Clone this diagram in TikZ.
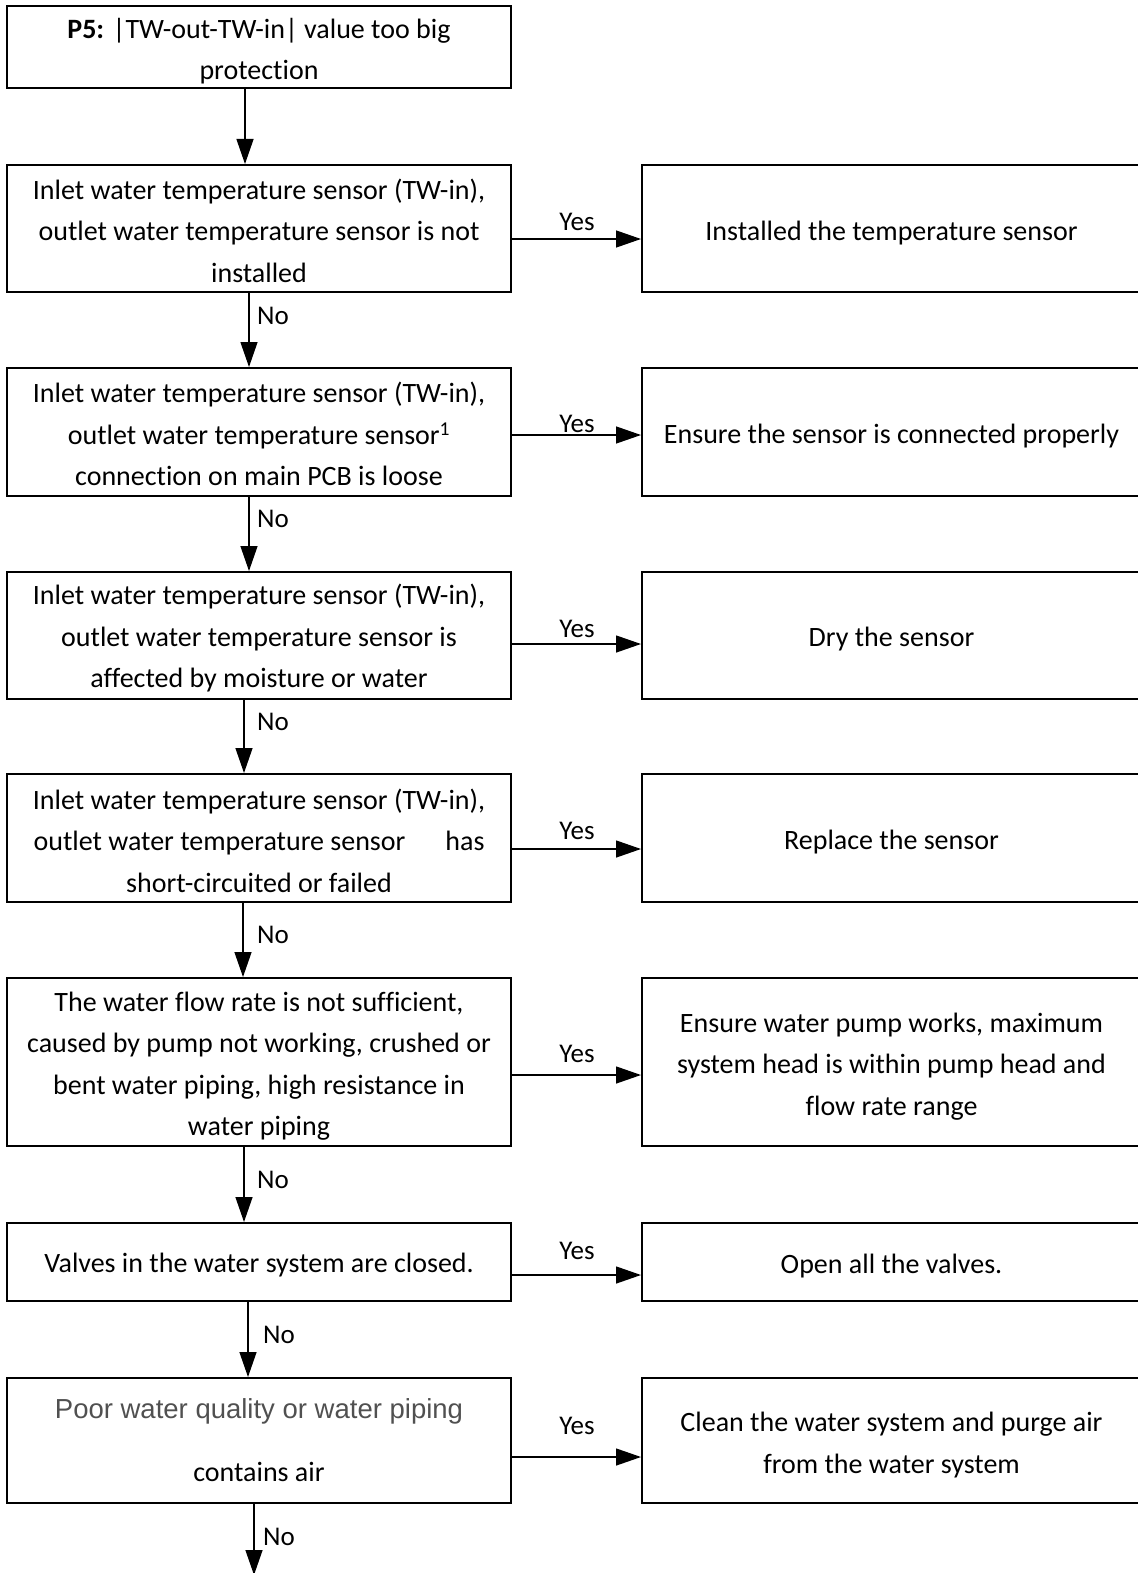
\documentclass[tikz,border=0pt]{standalone}
\usepackage{fontspec}
\setmainfont{Carlito}[Ligatures={NoCommon}]
\newfontfamily\arialf{Liberation Sans}
\usetikzlibrary{arrows.meta}
\definecolor{tgray}{RGB}{80,80,80}
\begin{document}
\begin{tikzpicture}[x=1pt,y=-1pt,
  box/.style={draw, line width=2pt, inner sep=0pt},
  txt/.style={align=center, inner sep=0pt, font=\fontsize{28}{41.5}\selectfont},
  lbox/.style={box, minimum width=504pt},
  rbox/.style={box, minimum width=499pt},
  arr/.style={line width=1.3pt, -{Triangle[length=25pt,width=17pt]}},
  lab/.style={font=\fontsize{27}{30}\selectfont, inner sep=0pt}]
\useasboundingbox (0,0) rectangle (1137,1573);
% left column
\node[lbox, minimum height=82pt, label={[txt,yshift=-4pt]center:{\textbf{P5:} |TW-out-TW-in| value too big\\protection}}] (b0) at (259,47) {};
\node[lbox, minimum height=127pt, label={[txt,yshift=-2pt]center:{Inlet water temperature sensor (TW-in),\\outlet water temperature sensor is not\\installed}}] (b1) at (259,228.5) {};
\node[lbox, minimum height=128pt, label={[txt,yshift=-2pt]center:{Inlet water temperature sensor (TW-in),\\outlet water temperature sensor\textsuperscript{1}\\connection on main PCB is loose}}] (b2) at (259,432) {};
\node[lbox, minimum height=127pt, label={[txt,yshift=-3pt]center:{Inlet water temperature sensor (TW-in),\\outlet water temperature sensor is\\affected by moisture or water}}] (b3) at (259,635.5) {};
\node[lbox, minimum height=128pt, label={[txt,yshift=-2.5pt]center:{Inlet water temperature sensor (TW-in),\\outlet water temperature sensor\hspace{1.2em} has\\short-circuited or failed}}] (b4) at (259,838) {};
\node[lbox, minimum height=168pt, label={[txt,yshift=-4pt]center:{The water flow rate is not sufficient,\\caused by pump not working, crushed or\\bent water piping, high resistance in\\water piping}}] (b5) at (259,1062) {};
\node[lbox, minimum height=78pt, label={[txt,yshift=-3pt]center:{Valves in the water system are closed.}}] (b6) at (259,1262) {};
\node[lbox, minimum height=125pt, label={[txt,font=\fontsize{28}{63}\selectfont]center:{{\arialf\fontsize{27.5}{63}\selectfont\color{tgray}Poor water quality or water piping}\\contains air}}] (b7) at (259,1440.5) {};
% right column
\node[rbox, minimum height=127pt, label={[txt,yshift=-5pt]center:{Installed the temperature sensor}}] (r1) at (891.5,228.5) {};
\node[rbox, minimum height=128pt, label={[txt,yshift=-4.5pt]center:{Ensure the sensor is connected properly}}] (r2) at (891.5,432) {};
\node[rbox, minimum height=127pt, label={[txt,yshift=-4pt]center:{Dry the sensor}}] (r3) at (891.5,635.5) {};
\node[rbox, minimum height=128pt, label={[txt,yshift=-4pt]center:{Replace the sensor}}] (r4) at (891.5,838) {};
\node[rbox, minimum height=168pt, label={[txt,yshift=-4.5pt]center:{Ensure water pump works, maximum\\system head is within pump head and\\flow rate range}}] (r5) at (891.5,1062) {};
\node[rbox, minimum height=78pt, label={[txt,yshift=-4pt]center:{Open all the valves.}}] (r6) at (891.5,1262) {};
\node[rbox, minimum height=125pt, label={[txt,yshift=-4.5pt]center:{Clean the water system and purge air\\from the water system}}] (r7) at (891.5,1440.5) {};
\coordinate (fin) at (254,1575);
% vertical arrows
\draw[arr] ([xshift=-14pt]b0.south) -- ([xshift=-14pt]b1.north);
\draw[arr] ([xshift=-10pt]b1.south) -- ([xshift=-10pt]b2.north);
\draw[arr] ([xshift=-10pt]b2.south) -- ([xshift=-10pt]b3.north);
\draw[arr] ([xshift=-15pt]b3.south) -- ([xshift=-15pt]b4.north);
\draw[arr] ([xshift=-16pt]b4.south) -- ([xshift=-16pt]b5.north);
\draw[arr] ([xshift=-15pt]b5.south) -- ([xshift=-15pt]b6.north);
\draw[arr] ([xshift=-11pt]b6.south) -- ([xshift=-11pt]b7.north);
\draw[arr] (b7.south -| fin) -- (fin);
% No labels
\node[lab, anchor=west] (n1) at (257,316)  {No};
\node[lab, anchor=west] (n2) at (257,519)  {No};
\node[lab, anchor=west] (n3) at (257,722)  {No};
\node[lab, anchor=west] (n4) at (257,935)  {No};
\node[lab, anchor=west] (n5) at (257,1180) {No};
\node[lab, anchor=west] (n6) at (263,1335) {No};
\node[lab, anchor=west] (n7) at (263,1537) {No};
% horizontal arrows
\draw[arr] ([yshift=-10.5pt]b1.east) -- ([yshift=-10.5pt]r1.west);
\draw[arr] ([yshift=-3pt]b2.east) -- ([yshift=-3pt]r2.west);
\draw[arr] ([yshift=-8.5pt]b3.east) -- ([yshift=-8.5pt]r3.west);
\draw[arr] ([yshift=-11pt]b4.east) -- ([yshift=-11pt]r4.west);
\draw[arr] ([yshift=-13pt]b5.east) -- ([yshift=-13pt]r5.west);
\draw[arr] ([yshift=-13pt]b6.east) -- ([yshift=-13pt]r6.west);
\draw[arr] ([yshift=-16.5pt]b7.east) -- ([yshift=-16.5pt]r7.west);
% Yes labels
\node[lab] (y1) at (577,222)  {Yes};
\node[lab] (y2) at (577,424)  {Yes};
\node[lab] (y3) at (577,629)  {Yes};
\node[lab] (y4) at (577,831)  {Yes};
\node[lab] (y5) at (577,1054) {Yes};
\node[lab] (y6) at (577,1251) {Yes};
\node[lab] (y7) at (577,1426) {Yes};
\end{tikzpicture}
\end{document}
